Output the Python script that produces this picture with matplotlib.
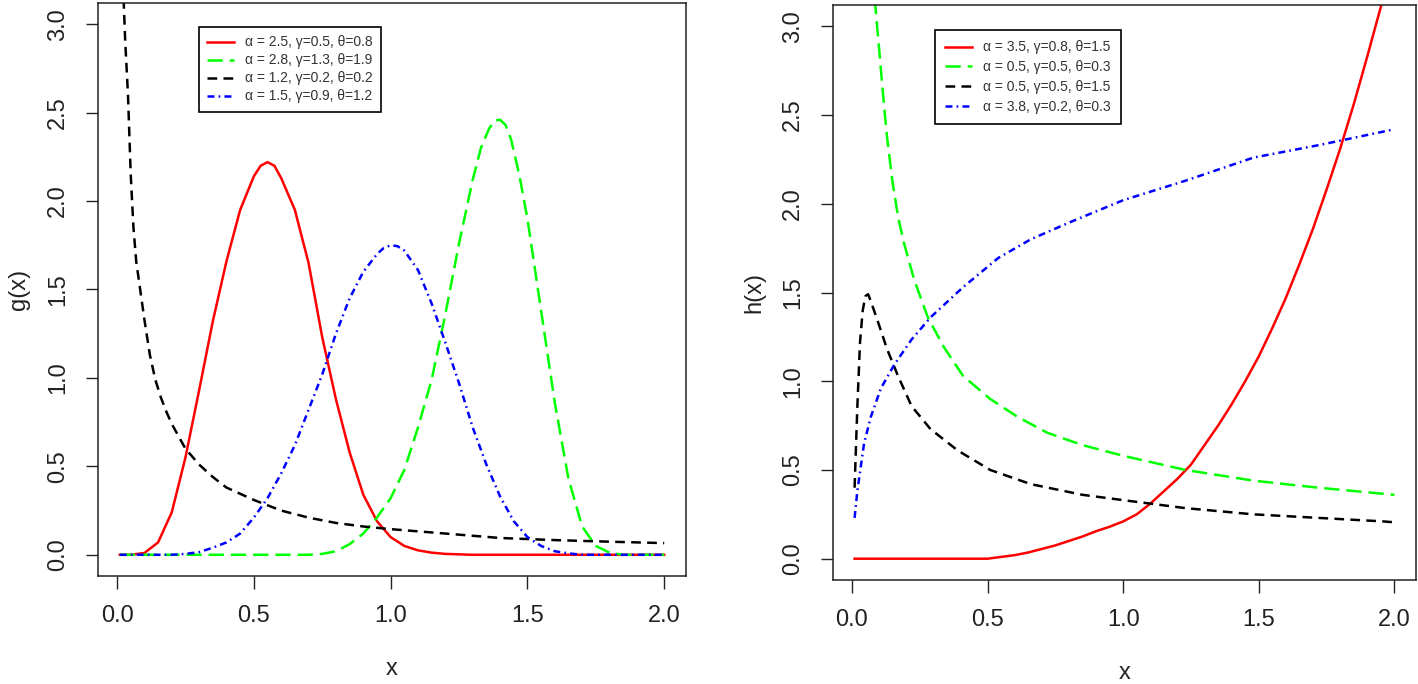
import numpy as np
import matplotlib
matplotlib.use("Agg")
import matplotlib.pyplot as plt

plt.rcParams['font.family'] = ['Liberation Sans', 'DejaVu Sans']
plt.rcParams['lines.scale_dashes'] = False

# ---- left panel: g(x) ----
g_red_x = [0.01, 0.05, 0.10, 0.15, 0.20, 0.25, 0.30, 0.35, 0.40, 0.45, 0.50, 0.525,
           0.55, 0.575, 0.60, 0.65, 0.70, 0.75, 0.80, 0.85, 0.90, 0.95, 1.00, 1.05,
           1.10, 1.15, 1.20, 1.30, 2.00]
g_red_y = [0.0, 0.0, 0.01, 0.07, 0.24, 0.55, 0.93, 1.32, 1.66, 1.95, 2.14, 2.20,
           2.22, 2.20, 2.13, 1.95, 1.65, 1.23, 0.88, 0.58, 0.34, 0.19, 0.10, 0.05,
           0.025, 0.012, 0.005, 0.0, 0.0]

g_green_x = [0.01, 0.70, 0.75, 0.80, 0.85, 0.90, 0.95, 1.00, 1.05, 1.10, 1.15, 1.20,
             1.25, 1.30, 1.33, 1.36, 1.38, 1.40, 1.42, 1.44, 1.47, 1.50, 1.55, 1.60,
             1.65, 1.70, 1.75, 1.80, 1.85, 2.00]
g_green_y = [0.0, 0.0, 0.005, 0.02, 0.06, 0.12, 0.21, 0.32, 0.48, 0.72, 0.99, 1.36,
             1.76, 2.12, 2.30, 2.41, 2.455, 2.46, 2.43, 2.35, 2.15, 1.90, 1.38, 0.86,
             0.43, 0.16, 0.05, 0.012, 0.0, 0.0]

g_black_x = [0.01, 0.02, 0.03, 0.04, 0.05, 0.06, 0.07, 0.08, 0.10, 0.12, 0.14, 0.16,
             0.18, 0.20, 0.25, 0.30, 0.35, 0.40, 0.50, 0.60, 0.70, 0.80, 0.90, 1.00,
             1.20, 1.40, 1.60, 1.80, 2.00]
g_black_y = [4.6, 3.3, 2.9, 2.6, 2.15, 1.85, 1.66, 1.55, 1.33, 1.13, 0.99, 0.89,
             0.81, 0.74, 0.60, 0.51, 0.44, 0.38, 0.31, 0.25, 0.21, 0.18, 0.16, 0.145,
             0.12, 0.095, 0.083, 0.074, 0.066]

g_blue_x = [0.01, 0.20, 0.25, 0.30, 0.35, 0.40, 0.45, 0.50, 0.55, 0.60, 0.65, 0.70,
            0.75, 0.80, 0.85, 0.90, 0.95, 0.975, 1.00, 1.025, 1.05, 1.10, 1.15, 1.20,
            1.25, 1.30, 1.35, 1.40, 1.45, 1.50, 1.55, 1.60, 1.65, 1.70, 2.00]
g_blue_y = [0.0, 0.0, 0.005, 0.015, 0.04, 0.07, 0.12, 0.21, 0.32, 0.46, 0.62, 0.82,
            1.02, 1.25, 1.45, 1.60, 1.70, 1.735, 1.75, 1.745, 1.72, 1.61, 1.42, 1.20,
            0.97, 0.72, 0.51, 0.33, 0.19, 0.10, 0.05, 0.02, 0.008, 0.0, 0.0]

g_labels = [u"\u03b1 = 2.5, \u03b3=0.5, \u03b8=0.8",
            u"\u03b1 = 2.8, \u03b3=1.3, \u03b8=1.9",
            u"\u03b1 = 1.2, \u03b3=0.2, \u03b8=0.2",
            u"\u03b1 = 1.5, \u03b3=0.9, \u03b8=1.2"]

# ---- right panel: h(x) ----
h_red_x = [0.01, 0.50, 0.55, 0.60, 0.65, 0.70, 0.75, 0.80, 0.85, 0.90, 0.95, 1.00,
           1.05, 1.10, 1.15, 1.20, 1.25, 1.30, 1.35, 1.40, 1.45, 1.50, 1.55, 1.60,
           1.65, 1.70, 1.75, 1.80, 1.85, 1.90, 1.95, 2.00]
h_red_y = [0.0, 0.0, 0.01, 0.02, 0.035, 0.055, 0.075, 0.10, 0.125, 0.155, 0.18, 0.21,
           0.25, 0.31, 0.38, 0.45, 0.53, 0.64, 0.75, 0.87, 1.00, 1.14, 1.30, 1.47,
           1.66, 1.86, 2.08, 2.31, 2.56, 2.83, 3.11, 3.41]

h_green_x = [0.01, 0.03, 0.05, 0.08, 0.09, 0.10, 0.11, 0.12, 0.13, 0.15, 0.17, 0.19,
             0.23, 0.28, 0.34, 0.41, 0.51, 0.61, 0.72, 0.85, 1.00, 1.23, 1.48, 1.72,
             2.00]
h_green_y = [10.0, 5.5, 4.3, 3.25, 3.05, 2.88, 2.70, 2.53, 2.37, 2.12, 1.93, 1.79,
             1.57, 1.36, 1.19, 1.03, 0.90, 0.80, 0.71, 0.64, 0.58, 0.50, 0.44, 0.40,
             0.36]

h_black_x = [0.01, 0.02, 0.03, 0.04, 0.05, 0.06, 0.07, 0.095, 0.13, 0.17, 0.22, 0.29,
             0.39, 0.51, 0.66, 0.85, 1.00, 1.23, 1.48, 1.72, 1.96, 2.00]
h_black_y = [0.40, 0.85, 1.22, 1.40, 1.48, 1.49, 1.45, 1.34, 1.18, 1.03, 0.86, 0.73,
             0.61, 0.50, 0.42, 0.36, 0.33, 0.285, 0.25, 0.23, 0.21, 0.205]

h_blue_x = [0.01, 0.02, 0.045, 0.07, 0.107, 0.155, 0.22, 0.29, 0.41, 0.54, 0.66, 0.81,
            1.00, 1.23, 1.48, 1.72, 1.97, 2.00]
h_blue_y = [0.23, 0.38, 0.65, 0.80, 0.96, 1.09, 1.235, 1.36, 1.53, 1.695, 1.80, 1.90,
            2.02, 2.13, 2.26, 2.33, 2.41, 2.42]

h_labels = [u"\u03b1 = 3.5, \u03b3=0.8, \u03b8=1.5",
            u"\u03b1 = 0.5, \u03b3=0.5, \u03b8=0.3",
            u"\u03b1 = 0.5, \u03b3=0.5, \u03b8=1.5",
            u"\u03b1 = 3.8, \u03b3=0.2, \u03b8=0.3"]

ticks = [0.0, 0.5, 1.0, 1.5, 2.0, 2.5, 3.0]
xticks = [0.0, 0.5, 1.0, 1.5, 2.0]

W, H = 1418, 684
fig = plt.figure(figsize=(W / 100, H / 100), dpi=100)
ax1 = fig.add_axes([98 / W, 1 - 576 / H, 588 / W, 573 / H])
ax2 = fig.add_axes([833 / W, 1 - 580 / H, 583 / W, 575 / H])

lw = 1.8
styles = [dict(color='#FF0000', linestyle='-'),
          dict(color='#00FF00', dashes=(11, 5)),
          dict(color='black', dashes=(7, 4.5)),
          dict(color='#0000FF', dashes=(5, 3, 1.2, 3))]


def panel(ax, series, labels, ylabel, leg_anchor, spacing, bpad):
    for (x, y), st, lab in zip(series, styles, labels):
        ax.plot(x, y, linewidth=lw, label=lab, **st)
    ax.set_xlim(-0.0696, 2.0796)
    ax.set_ylim(-0.12, 3.12)
    ax.set_xticks(xticks)
    ax.set_yticks(ticks)
    ax.set_xticklabels(["%.1f" % t for t in xticks])
    ax.set_yticklabels(["%.1f" % t for t in ticks], rotation=90, va='center')
    ax.tick_params(axis='both', length=9, width=1.0, pad=12, labelsize=17,
                   colors='#222222')
    for sp in ax.spines.values():
        sp.set_linewidth(1.1)
        sp.set_color('#222222')
    ax.set_xlabel("x", fontsize=17, labelpad=22, color='#222222')
    ax.set_ylabel(ylabel, fontsize=17, labelpad=12, color='#222222')
    leg = ax.legend(loc='upper left', bbox_to_anchor=leg_anchor, fontsize=10,
                    fancybox=False, framealpha=1, edgecolor='black',
                    borderaxespad=0, handlelength=1.9, labelspacing=spacing,
                    borderpad=bpad, handletextpad=0.8)
    leg.get_frame().set_linewidth(1.2)
    for t in leg.get_texts():
        t.set_color('#333333')


panel(ax1, [(g_red_x, g_red_y), (g_green_x, g_green_y),
            (g_black_x, g_black_y), (g_blue_x, g_blue_y)],
      g_labels, "g(x)", (0.172, 0.958), 0.29, 0.6)
panel(ax2, [(h_red_x, h_red_y), (h_green_x, h_green_y),
            (h_black_x, h_black_y), (h_blue_x, h_blue_y)],
      h_labels, "h(x)", (0.175, 0.9565), 0.42, 0.75)

fig.savefig("out.png", dpi=100)
